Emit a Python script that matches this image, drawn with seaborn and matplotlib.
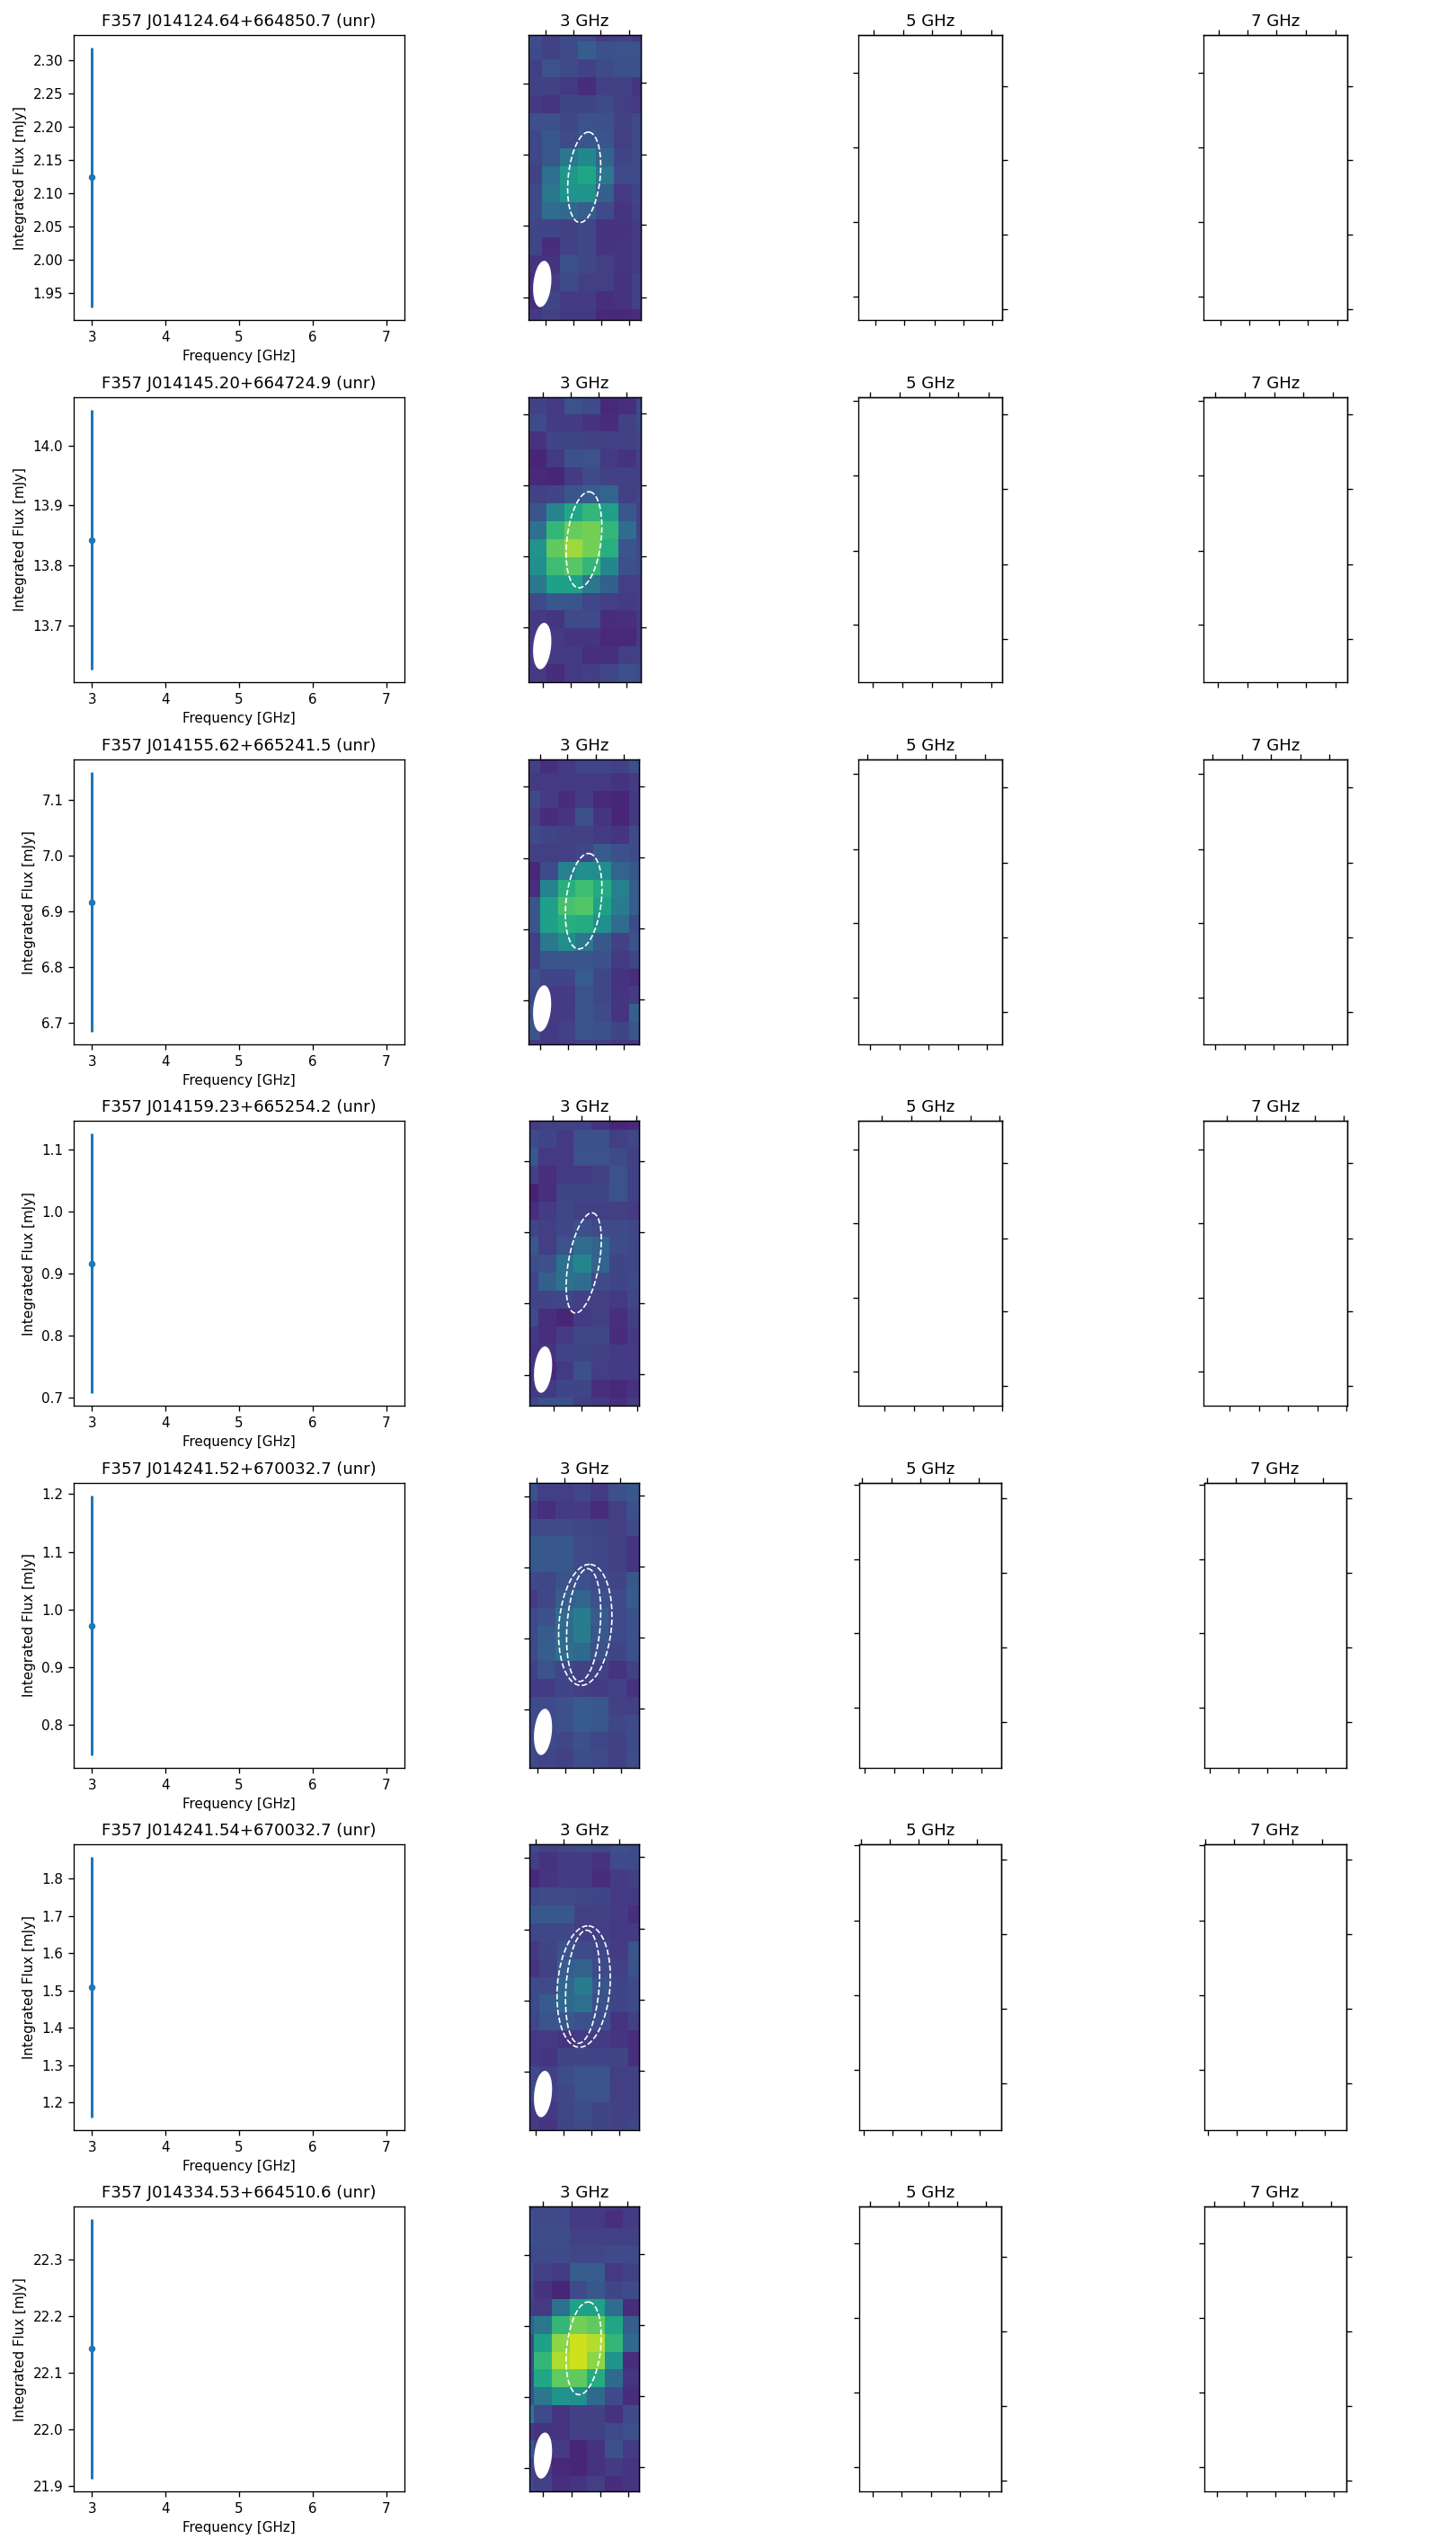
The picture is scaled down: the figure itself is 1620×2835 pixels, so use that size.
#!/usr/bin/env python3
"""Flux and 3 GHz cutouts for the F357 unresolved sources, one row per source"""
import matplotlib
matplotlib.use('Agg')
import matplotlib.pyplot as plt
import numpy as np
import seaborn as sns
from matplotlib.patches import Ellipse

# source table
source_names = ['F357 J014124.64+664850.7 (unr)', 'F357 J014145.20+664724.9 (unr)',
                'F357 J014155.62+665241.5 (unr)', 'F357 J014159.23+665254.2 (unr)',
                'F357 J014241.52+670032.7 (unr)', 'F357 J014241.54+670032.7 (unr)',
                'F357 J014334.53+664510.6 (unr)']
freq_ghz = [3, 3, 3, 3, 3, 3, 3]
flux_mjy = [2.124, 13.843, 6.917, 0.917, 0.972, 1.509, 22.142]
flux_err = [0.195, 0.216, 0.232, 0.209, 0.225, 0.349, 0.228]
band_titles = ['3 GHz', '5 GHz', '7 GHz']

# 3 GHz cutouts
cut_1 = np.array([
    [.22, .17, .20, .20, .15, .17, .14],
    [.20, .17, .20, .27, .22, .23, .23],
    [.16, .23, .20, .17, .20, .22, .22],
    [.17, .17, .14, .10, .17, .17, .13],
    [.14, .13, .18, .18, .20, .16, .14],
    [.22, .22, .19, .23, .22, .17, .20],
    [.19, .25, .20, .24, .24, .16, .20],
    [.19, .25, .38, .45, .30, .18, .20],
    [.17, .34, .52, .58, .38, .20, .20],
    [.20, .38, .50, .50, .28, .14, .18],
    [.20, .33, .32, .27, .20, .13, .17],
    [.18, .18, .17, .19, .12, .12, .15],
    [.18, .10, .17, .19, .12, .13, .15],
    [.12, .12, .22, .19, .16, .13, .14],
    [.10, .15, .20, .16, .16, .12, .17],
    [.10, .18, .15, .15, .11, .12, .17],
    [.14, .17, .14, .14, .09, .09, .10]])
cut_2 = np.array([
    [.17, .14, .23, .20, .09, .11, .20],
    [.20, .15, .15, .12, .10, .17, .20],
    [.12, .18, .18, .17, .16, .17, .18],
    [.08, .14, .22, .23, .14, .12, .17],
    [.09, .08, .15, .20, .17, .17, .17],
    [.17, .18, .24, .27, .30, .16, .18],
    [.24, .44, .58, .65, .55, .25, .17],
    [.35, .65, .76, .78, .65, .33, .18],
    [.50, .75, .85, .78, .62, .24, .20],
    [.48, .68, .73, .65, .45, .22, .20],
    [.38, .55, .55, .38, .28, .16, .17],
    [.20, .25, .24, .19, .16, .15, .16],
    [.14, .13, .20, .20, .10, .11, .14],
    [.15, .15, .13, .13, .09, .09, .14],
    [.15, .15, .15, .11, .11, .16, .17],
    [.14, .10, .14, .16, .19, .22, .20]])
cut_3 = np.array([
    [.17, .11, .15, .18, .18, .17, .22],
    [.14, .14, .14, .14, .14, .12, .15],
    [.20, .15, .10, .15, .09, .08, .14],
    [.16, .10, .13, .22, .13, .08, .14],
    [.20, .18, .17, .17, .14, .13, .20],
    [.16, .16, .16, .18, .26, .22, .20],
    [.09, .20, .42, .48, .47, .30, .25],
    [.10, .42, .62, .68, .60, .42, .27],
    [.24, .55, .70, .72, .55, .40, .27],
    [.24, .55, .62, .60, .48, .33, .20],
    [.16, .38, .47, .38, .25, .17, .23],
    [.17, .24, .24, .24, .22, .14, .18],
    [.22, .18, .18, .27, .19, .12, .10],
    [.20, .15, .15, .23, .19, .13, .15],
    [.22, .15, .15, .24, .20, .13, .28],
    [.24, .14, .17, .24, .22, .18, .24],
    [.15, .14, .15, .17, .17, .14, .14]])
cut_4 = np.array([
    [.15, .17, .17, .17, .12, .08, .09],
    [.20, .18, .14, .22, .22, .16, .19],
    [.25, .14, .14, .23, .23, .20, .17],
    [.17, .11, .14, .14, .17, .23, .17],
    [.07, .11, .18, .18, .18, .23, .17],
    [.10, .15, .19, .16, .16, .16, .15],
    [.18, .16, .19, .22, .20, .20, .19],
    [.25, .16, .23, .33, .30, .21, .19],
    [.21, .22, .36, .44, .30, .18, .19],
    [.18, .28, .36, .33, .20, .18, .20],
    [.18, .18, .19, .17, .16, .14, .19],
    [.20, .11, .08, .15, .17, .11, .16],
    [.14, .11, .15, .19, .19, .10, .14],
    [.13, .13, .18, .18, .17, .15, .15],
    [.13, .09, .14, .22, .16, .15, .15],
    [.14, .14, .18, .18, .11, .09, .12],
    [.18, .22, .22, .16, .14, .11, .15]])
cut_5 = np.array([
    [.23, .16, .16, .19, .15, .22, .25],
    [.14, .11, .15, .15, .10, .16, .22],
    [.20, .20, .20, .19, .18, .16, .20],
    [.25, .25, .25, .20, .19, .17, .13],
    [.25, .25, .25, .20, .19, .17, .13],
    [.20, .19, .23, .22, .20, .18, .25],
    [.15, .19, .27, .30, .22, .20, .26],
    [.20, .22, .33, .40, .26, .20, .22],
    [.20, .26, .32, .40, .25, .20, .22],
    [.20, .27, .33, .32, .22, .18, .22],
    [.17, .23, .19, .17, .17, .12, .17],
    [.15, .15, .18, .16, .15, .17, .12],
    [.20, .20, .22, .26, .25, .17, .16],
    [.20, .20, .22, .26, .25, .19, .20],
    [.20, .20, .19, .22, .19, .17, .20],
    [.20, .18, .17, .21, .20, .17, .21]])
cut_6 = np.array([
    [.20, .17, .18, .20, .18, .22, .20],
    [.16, .12, .15, .14, .12, .20, .20],
    [.09, .13, .15, .14, .10, .15, .17],
    [.19, .20, .20, .19, .18, .14, .14],
    [.25, .25, .25, .17, .17, .15, .11],
    [.19, .19, .19, .16, .16, .14, .15],
    [.14, .18, .23, .20, .19, .15, .24],
    [.13, .17, .27, .29, .20, .17, .23],
    [.20, .20, .31, .40, .24, .18, .20],
    [.20, .26, .32, .35, .22, .18, .20],
    [.19, .24, .25, .22, .21, .13, .17],
    [.14, .15, .13, .15, .15, .13, .10],
    [.14, .13, .18, .18, .18, .18, .11],
    [.20, .17, .21, .24, .24, .16, .17],
    [.20, .17, .19, .23, .23, .16, .17],
    [.15, .14, .19, .21, .18, .17, .17],
    [.15, .13, .18, .20, .18, .17, .19]])
cut_7 = np.array([
    [.15, .20, .20, .14, .14, .14, .15],
    [.22, .20, .20, .14, .14, .11, .15],
    [.22, .21, .21, .17, .17, .17, .17],
    [.20, .20, .20, .19, .19, .20, .20],
    [.22, .17, .14, .27, .27, .14, .17],
    [.20, .12, .08, .20, .25, .18, .20],
    [.16, .14, .35, .55, .55, .33, .10],
    [.30, .38, .65, .78, .75, .58, .27],
    [.20, .55, .82, .92, .88, .65, .32],
    [.20, .65, .87, .92, .82, .50, .10],
    [.20, .58, .75, .75, .60, .32, .13],
    [.22, .38, .50, .48, .32, .20, .10],
    [.38, .20, .13, .17, .17, .12, .20],
    [.15, .12, .13, .17, .17, .20, .22],
    [.25, .17, .15, .08, .12, .22, .15],
    [.18, .15, .09, .08, .12, .15, .13],
    [.20, .17, .11, .13, .16, .10, .13]])
cutouts = [cut_1, cut_2, cut_3, cut_4, cut_5, cut_6, cut_7]

# fitted source ellipses per cutout: centre x, centre y, minor, major, angle (cells)
source_ellipses = [
    [(3.35, 8.62, 1.77, 5.10, 6.0)],
    [(3.08, 8.04, 1.90, 5.40, 6.7)],
    [(3.45, 8.22, 1.97, 5.40, 6.7)],
    [(3.56, 8.45, 1.72, 5.70, 10.2)],
    [(3.69, 7.97, 2.95, 6.82, 4.8), (3.60, 7.98, 1.86, 6.35, 4.4)],
    [(3.50, 8.54, 2.95, 6.82, 4.8), (3.44, 8.55, 1.86, 6.35, 4.4)],
    [(3.80, 8.80, 1.90, 5.26, 6.3)],
]

# layout in pixels of the 1620x2835 canvas
W, H = 1620, 2835
row_top = [39, 442, 845, 1247, 1650, 2052, 2455]
row_bot = [356, 759, 1162, 1564, 1967, 2370, 2772]
col0_x = (82, 450)
col1_x = [(588.3, 712.7), (588.3, 712.7), (588.3, 711.3), (589.3, 711.3),
          (589.3, 711.3), (589.3, 711.3), (589.3, 711.3)]
col2_x = [(955.3, 1115)] * 4 + [(956, 1114)] * 3
col3_x = [(1339, 1498.5)] * 4 + [(1339.5, 1497.5)] * 3

# visible window of each cutout, in cells
cut_xlim = [(.27, 6.48), (0, 6.23), (.37, 6.57), (.53, 6.67), (.57, 6.72), (.47, 6.62), (.77, 6.92)]
cut_ylim = [(.63, 16.63), (.07, 16.0), (.25, 16.27), (.48, 16.45), (0, 16.0), (.57, 16.58), (.8, 16.87)]

# tick positions as axes fractions, measured from left and from top
c1_top = [[.147, .397, .643, .900], [.123, .373, .622, .871], [.100, .350, .604, .856],
          [.208, .470, .724, .975], [.062, .316, .571, .825], [.052, .306, .561, .815],
          [.118, .380, .637, .891]]
c1_bottom = [[.153, .402, .649, .900], [.129, .378, .627, .877], [.106, .358, .610, .862],
             [.221, .475, .730, .984], [.068, .322, .577, .831], [.057, .311, .566, .820],
             [.123, .385, .642, .896]]
c1_left = [[.170, .419, .670, .920], [.060, .309, .558, .807], [.095, .348, .596, .846],
           [.142, .392, .641, .894], [.048, .297, .546, .795], [.047, .298, .546, .796],
           [.171, .419, .669, .918]]
c1_right = [[.168, .418, .666, .920], [.057, .309, .558, .807], [.095, .345, .593, .842],
            [.142, .392, .641, .891], [.045, .294, .543, .792], [.044, .295, .543, .793],
            [.168, .417, .666, .915]]
c2_top = [[.104, .309, .509, .715, .923], [.080, .287, .495, .696, .904], [.061, .268, .469, .677, .878],
          [.161, .369, .570, .778, .979], [.020, .225, .430, .635, .840], [.010, .215, .420, .625, .830],
          [.075, .280, .485, .690, .895]]
c2_bottom = [[.119, .320, .528, .728, .933], [.100, .306, .514, .715, .924], [.080, .287, .488, .696, .895],
             [.180, .388, .589, .797, .998], [.039, .244, .449, .654, .859], [.029, .234, .439, .644, .849],
             [.094, .299, .504, .709, .914]]
c2_left = [[.131, .393, .655, .917], [.014, .276, .540, .797], [.051, .315, .575, .836],
           [.100, .361, .622, .881], [.005, .267, .528, .790], [.004, .266, .527, .789],
           [.128, .390, .652, .914]]
c2_right = [[.181, .440, .700, .962], [.061, .322, .586, .848], [.098, .362, .624, .886],
            [.149, .413, .669, .932], [.053, .315, .576, .838], [.052, .314, .575, .837],
            [.176, .438, .700, .962]]

# text is a bit smaller than the default at this canvas size
plt.rcParams.update({'font.size': 9.1, 'axes.titlesize': 10.9, 'axes.labelsize': 9.1,
                     'xtick.labelsize': 9.1, 'ytick.labelsize': 9.1})


def add_axes(xr, top, bot):
    return fig.add_axes([xr[0] / W, 1 - bot / H, (xr[1] - xr[0]) / W, (bot - top) / H])


def frac_ticks(ax, xlim, ylim, top, bottom, left, right):
    # ticks differ on each side, so top and right go on secondary axes
    to_x = lambda f: xlim[0] + np.array(f) * (xlim[1] - xlim[0])
    to_y = lambda f: ylim[0] + np.array(f) * (ylim[1] - ylim[0])
    ax.set_xticks(to_x(bottom))
    ax.set_yticks(to_y(left))
    ax.tick_params(left=True, bottom=True, labelleft=False, labelbottom=False, length=3.5, width=0.8)
    sec_x = ax.secondary_xaxis('top')
    sec_x.set_xticks(to_x(top))
    sec_x.set_xticklabels([])
    sec_y = ax.secondary_yaxis('right')
    sec_y.set_yticks(to_y(right))
    sec_y.set_yticklabels([])


fig = plt.figure(figsize=(W / 120, H / 120), dpi=120)

for i, name in enumerate(source_names):
    # flux panel
    ax = add_axes(col0_x, row_top[i], row_bot[i])
    ax.errorbar([freq_ghz[i]], [flux_mjy[i]], yerr=[flux_err[i]], fmt='.', markersize=7, elinewidth=1.8)
    ax.set_xlim(2.75, 7.25)
    ax.set_xticks([3, 4, 5, 6, 7])
    ax.set_xlabel('Frequency [GHz]')
    ax.set_ylabel('Integrated Flux [mJy]')
    ax.set_title(name)

    # 3 GHz cutout
    ax = add_axes(col1_x[i], row_top[i], row_bot[i])
    sns.heatmap(cutouts[i], ax=ax, cmap='viridis', vmin=-0.03, vmax=1, cbar=False,
                xticklabels=False, yticklabels=False)
    for s in ax.spines.values():
        s.set_visible(True)
        s.set_linewidth(0.8)
    xlim, ylim = cut_xlim[i], cut_ylim[i]
    ax.set_xlim(*xlim)
    ax.set_ylim(ylim[1], ylim[0])
    frac_ticks(ax, xlim, ylim, c1_top[i], c1_bottom[i], c1_left[i], c1_right[i])
    for cx, cy, minor, major, angle in source_ellipses[i]:
        ax.add_patch(Ellipse((cx, cy), minor, major, angle=angle, fill=False,
                             edgecolor='white', linestyle='--', linewidth=1))
    ax.add_patch(Ellipse((xlim[0] + 0.75, ylim[1] - 2.02), 0.99, 2.61, angle=5.6,
                         facecolor='white', edgecolor='none'))
    ax.set_title(band_titles[0])

    # 5 and 7 GHz have no detection, frames only
    for xr, band in zip((col2_x[i], col3_x[i]), band_titles[1:]):
        ax = add_axes(xr, row_top[i], row_bot[i])
        ax.set_xlim(0, 1)
        ax.set_ylim(1, 0)
        frac_ticks(ax, (0, 1), (0, 1), c2_top[i], c2_bottom[i], c2_left[i], c2_right[i])
        ax.set_title(band)

fig.savefig('out.png', dpi=120)
